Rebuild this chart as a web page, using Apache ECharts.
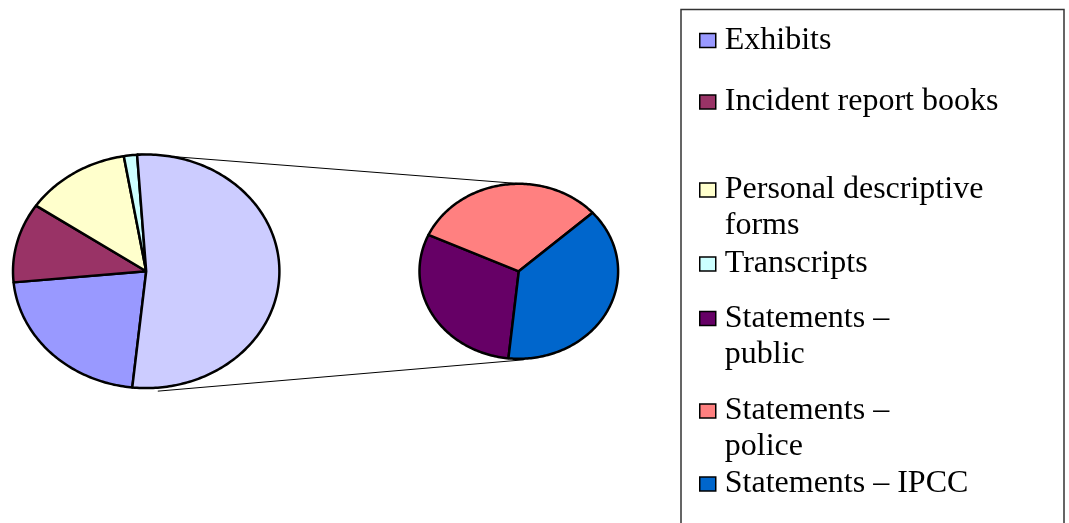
<!DOCTYPE html>
<html>
<head>
<meta charset="utf-8">
<title>Pie of pie</title>
<script src="https://cdn.jsdelivr.net/npm/echarts@6/dist/echarts.min.js"></script>
<style>
  html, body { margin: 0; padding: 0; background: #ffffff; }
  #chart { width: 1069px; height: 523px; }
</style>
</head>
<body>
<div id="chart"></div>
<script>
// Share of material (per cent)
const mainCategories = ['Exhibits', 'Incident report books', 'Personal descriptive forms', 'Transcripts'];
const mainValues = [21.8, 11.0, 12.8, 1.6];
const statementCategories = ['Statements \u2013 public', 'Statements \u2013 police', 'Statements \u2013 IPCC'];
const statementValues = [15.9, 16.6, 20.2];

// Slice fills
const mainColors = ['#9999FF', '#993366', '#FFFFCC', '#CCFFFF'];
const statementColors = ['#660066', '#FF8080', '#0066CC'];
const otherColor = '#CCCCFF';

// Legend line breaks
const legendWrap = {
  'Personal descriptive forms': 'Personal descriptive\nforms',
  'Statements \u2013 public': 'Statements \u2013\npublic',
  'Statements \u2013 police': 'Statements \u2013\npolice'
};

// Pie geometry (pixel grid), both pies are drawn slightly stretched horizontally
const mainPie = { cx: 146.2, cy: 271.3, rx: 133.2, ry: 116.8 };
const subPie = { cx: 518.8, cy: 271.3, rx: 99.3, ry: 87.5 };
const startDeg = -96;
const edgeWidth = 2.5;

const statementTotal = statementValues.reduce((s, v) => s + v, 0);

// Clockwise angular layout, same as a pie series would do
function layoutSlices(values, total, start) {
  let a = start;
  return values.map(v => {
    const a0 = a;
    a -= v / total * 360;
    return [a0, a];
  });
}

const mainAll = mainValues.concat([statementTotal]);
const mainTotal = mainAll.reduce((s, v) => s + v, 0);
const mainAngles = layoutSlices(mainAll, mainTotal, startDeg);
const subAngles = layoutSlices(statementValues, statementTotal, startDeg);

function ellipsePoint(pie, deg) {
  const r = deg * Math.PI / 180;
  return [pie.cx + pie.rx * Math.cos(r), pie.cy - pie.ry * Math.sin(r)];
}

function arcPoints(api, pie, a0, a1) {
  const pts = [api.coord([pie.cx, pie.cy])];
  const n = Math.max(4, Math.ceil(Math.abs(a0 - a1) / 1));
  for (let i = 0; i <= n; i++) {
    const a = a0 + (a1 - a0) * i / n;
    pts.push(api.coord(ellipsePoint(pie, a)));
  }
  return pts;
}

function sliceSeries(name, color, value, pie, angles) {
  return {
    type: 'custom',
    name: name,
    coordinateSystem: 'cartesian2d',
    itemStyle: { color: color },
    silent: true,
    data: [[value, 0]],
    renderItem: function (params, api) {
      return {
        type: 'polygon',
        shape: { points: arcPoints(api, pie, angles[0], angles[1]) },
        style: { fill: color, stroke: '#000000', lineWidth: edgeWidth, lineJoin: 'round' }
      };
    }
  };
}

const series = [];

// Lines joining the combined slice to the secondary pie
const otherAngles = mainAngles[mainAngles.length - 1];
series.push({
  type: 'custom',
  name: 'connectors',
  coordinateSystem: 'cartesian2d',
  silent: true,
  data: [[0, 0]],
  renderItem: function (params, api) {
    const topA = api.coord(ellipsePoint(mainPie, otherAngles[0]));
    const botA = api.coord(ellipsePoint(mainPie, otherAngles[1] + 11));
    const topB = api.coord([subPie.cx, subPie.cy - subPie.ry]);
    const botB = api.coord([subPie.cx, subPie.cy + subPie.ry]);
    return {
      type: 'group',
      children: [
        { type: 'line', shape: { x1: topA[0], y1: topA[1] - 1, x2: topB[0] + 3, y2: topB[1] },
          style: { stroke: '#000000', lineWidth: 1 } },
        { type: 'line', shape: { x1: botA[0], y1: botA[1] + 3.5, x2: botB[0] + 5, y2: botB[1] + 1 },
          style: { stroke: '#000000', lineWidth: 1 } }
      ]
    };
  }
});

mainCategories.forEach((name, i) => {
  series.push(sliceSeries(name, mainColors[i], mainValues[i], mainPie, mainAngles[i]));
});
series.push(sliceSeries('Other', otherColor, statementTotal, mainPie, otherAngles));
statementCategories.forEach((name, i) => {
  series.push(sliceSeries(name, statementColors[i], statementValues[i], subPie, subAngles[i]));
});

// One legend block per entry so each sits at its own height
const legendNames = mainCategories.concat(statementCategories);
const legendIconY = [35.5, 97, 185, 259, 313.5, 406, 479];
const lineH = 36;
const textDrop = 10;
const legends = legendNames.map((name, i) => {
  const wrapped = legendWrap[name];
  const lines = wrapped ? 3 : 1;
  return {
    show: true,
    orient: 'vertical',
    left: 699,
    top: legendIconY[i] - lines * lineH / 2,
    padding: 0,
    itemGap: 0,
    icon: 'rect',
    itemWidth: 16,
    itemHeight: 14,
    selectedMode: false,
    itemStyle: { borderColor: '#000000', borderWidth: 1.5 },
    data: [name],
    formatter: function (n) { return legendWrap[n] ? '\n' + legendWrap[n] : n; },
    textStyle: {
      fontFamily: '"Liberation Serif", "Times New Roman", serif',
      fontSize: 32,
      lineHeight: lineH,
      color: '#000000',
      padding: [textDrop, 0, 0, 4]
    }
  };
});

const chart = echarts.init(document.getElementById('chart'), null, { renderer: 'canvas' });
chart.setOption({
  animation: false,
  backgroundColor: '#ffffff',
  grid: { left: 0, right: 0, top: 0, bottom: 0 },
  xAxis: { type: 'value', min: 0, max: 1069, show: false },
  yAxis: { type: 'value', min: 0, max: 523, inverse: true, show: false },
  legend: legends,
  graphic: [{
    type: 'rect',
    silent: true,
    shape: { x: 681, y: 9.5, width: 383, height: 560 },
    style: { fill: 'none', stroke: '#333333', lineWidth: 1.5 }
  }],
  series: series
});
</script>
</body>
</html>
